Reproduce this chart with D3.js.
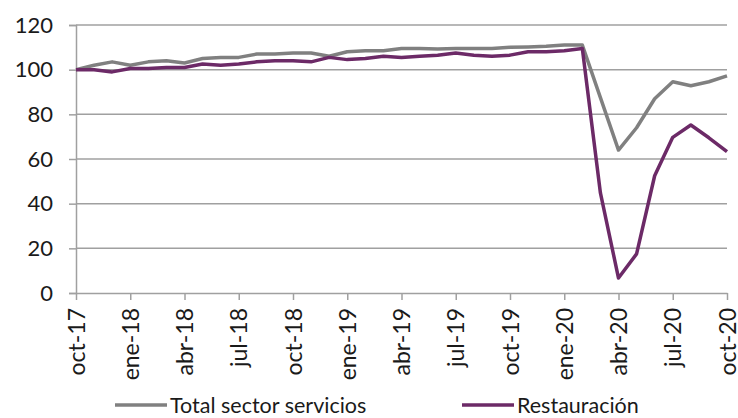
<!DOCTYPE html>
<html lang="es">
<head>
<meta charset="UTF-8">
<title>Servicios</title>
<script src="https://d3js.org/d3.v7.min.js"></script>
<style>
  body { margin: 0; background: #fff; }
  text { font-family: Lato, "Open Sans", sans-serif; fill: #1a1a1a; }
</style>
</head>
<body>
<svg width="738" height="418" id="mainsvg"></svg>
<script>
// monthly index, oct-17 .. oct-20
const months = ["oct-17","nov-17","dic-17","ene-18","feb-18","mar-18","abr-18","may-18","jun-18","jul-18","ago-18","sep-18",
  "oct-18","nov-18","dic-18","ene-19","feb-19","mar-19","abr-19","may-19","jun-19","jul-19","ago-19","sep-19",
  "oct-19","nov-19","dic-19","ene-20","feb-20","mar-20","abr-20","may-20","jun-20","jul-20","ago-20","sep-20","oct-20"]
const totalServicios = [100,102,103.5,102,103.5,104,103,105,105.5,105.5,107,107,
  107.5,107.5,106,108,108.5,108.5,109.5,109.5,109.2,109.5,109.5,109.5,
  110,110.2,110.5,111,111,87.5,64,74,87,94.6,92.8,94.6,97.2]
const restauracion = [100,100,99,100.5,100.5,101,101,102.5,102,102.5,103.5,104,
  104,103.5,105.5,104.5,105,106,105.5,106,106.5,107.5,106.5,106,
  106.5,108,108,108.5,109.5,44.8,6.7,17.5,52.5,69.7,75.2,69.5,63.3]
const yTicks = [0,20,40,60,80,100,120]
const seriesNames = ["Total sector servicios", "Restauración"]
const colors = ["#808080", "#6c2a67"]

const svg = d3.select("#mainsvg")
const margin = {left: 76, right: 11, top: 25, bottom: 125}
const innerWidth = 738 - margin.left - margin.right
const innerHeight = 418 - margin.top - margin.bottom
const g = svg.append("g").attr("transform", `translate(${margin.left}, ${margin.top})`)

const xScale = d3.scalePoint().domain(months).range([0, innerWidth])
const yScale = d3.scaleLinear().domain([0, 120]).range([innerHeight, 0])

// gridlines
g.selectAll(".grid").data(yTicks.filter(d => d > 0)).join("line")
  .attr("x1", 0).attr("x2", innerWidth)
  .attr("y1", d => yScale(d)).attr("y2", d => yScale(d))
  .attr("stroke", "#a0a0a0").attr("stroke-width", 1.5)

// y axis
const yAxis = d3.axisLeft(yScale).tickValues(yTicks).tickSize(7).tickPadding(16)
const ya = g.append("g").call(yAxis)
ya.select(".domain").attr("stroke", "#a0a0a0").attr("stroke-width", 1.5)
ya.selectAll(".tick line").attr("stroke", "#a0a0a0").attr("stroke-width", 1.5)
ya.selectAll(".tick text").style("font-size", "22px").attr("font-family", "Lato").attr("fill", "#1a1a1a")

// x axis
const quarterly = months.filter((d, i) => i % 3 === 0)
const xAxis = d3.axisBottom(xScale).tickValues(quarterly).tickSize(7).tickSizeOuter(0)
const xa = g.append("g").attr("transform", `translate(0, ${innerHeight})`).call(xAxis)
xa.select(".domain").attr("stroke", "#a0a0a0").attr("stroke-width", 1.5)
xa.selectAll(".tick line").attr("stroke", "#a0a0a0").attr("stroke-width", 1.5)
xa.selectAll(".tick text")
  .style("font-size", "23px").attr("font-family", "Lato").attr("fill", "#1a1a1a")
  .attr("transform", "rotate(-90)")
  .attr("text-anchor", "end")
  .attr("x", -15).attr("y", 0).attr("dy", "0.35em")

// lines
const line = d3.line()
  .x((d, i) => xScale(months[i]))
  .y(d => yScale(d))
;[totalServicios, restauracion].forEach((s, k) => {
  g.append("path").datum(s)
    .attr("fill", "none")
    .attr("stroke", colors[k])
    .attr("stroke-width", 3.5)
    .attr("stroke-linejoin", "round")
    .attr("d", line)
})

// legend
const legendX = [115, 462]
seriesNames.forEach((name, k) => {
  const lg = svg.append("g").attr("transform", `translate(${legendX[k]}, 405)`)
  lg.append("line").attr("x1", 0).attr("x2", 52).attr("y1", 0).attr("y2", 0)
    .attr("stroke", colors[k]).attr("stroke-width", 3.5)
  lg.append("text").attr("x", 55).attr("y", 0).attr("dy", "0.35em")
    .style("font-size", "21.5px").text(name)
})
</script>
</body>
</html>
